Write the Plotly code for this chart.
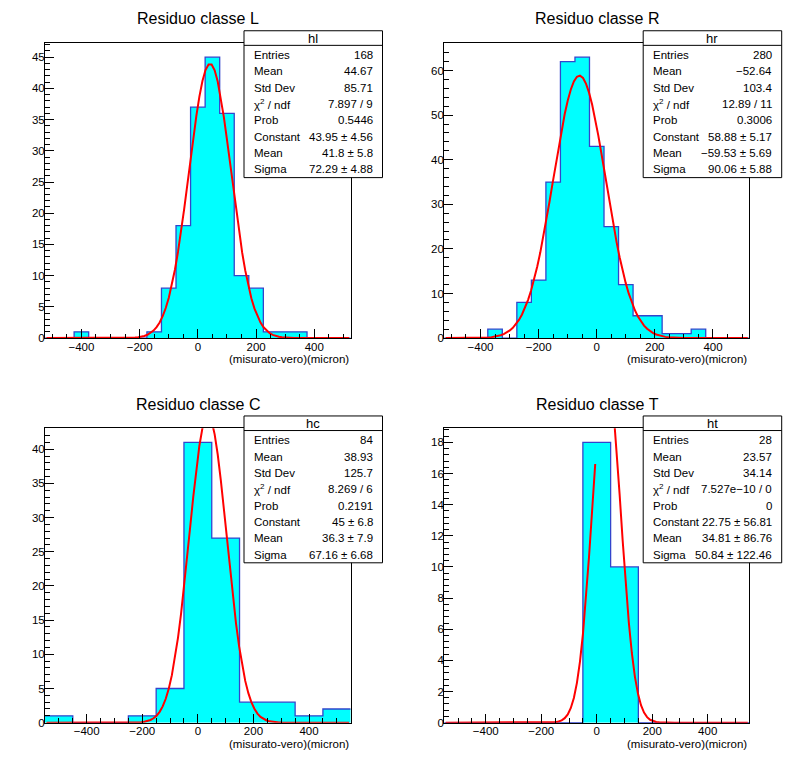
import numpy as np
import plotly.graph_objects as go

W, H = 798, 775

titles = ["Residuo classe L", "Residuo classe R", "Residuo classe C", "Residuo classe T"]
hist_names = ["hl", "hr", "hc", "ht"]

# contenuto dei bin (da sinistra a destra)
counts_l = [0, 0, 1, 0, 0, 0, 0, 1, 8, 18, 37, 45, 36, 10, 8, 1, 1, 1, 0, 0, 0]
counts_r = [0, 0, 0, 2, 0, 8, 13, 35, 62, 63, 43, 25, 12, 5, 5, 1, 1, 2, 0, 0, 0]
counts_c = [1, 0, 0, 1, 5, 41, 27, 3, 3, 1, 2]
counts_t = [0, 0, 0, 0, 0, 18, 10, 0, 0, 0, 0]
all_counts = [counts_l, counts_r, counts_c, counts_t]

# estremi dell'istogramma (micron)
x_limits = [(-525, 525), (-525, 525), (-550, 550), (-550, 550)]

# parametri del fit gaussiano
fit_const = [43.95, 58.88, 45.0, 22.75]
fit_mean = [41.8, -59.53, 36.3, 34.81]
fit_sigma = [72.29, 90.06, 67.16, 50.84]

stat_labels = ["Entries", "Mean", "Std Dev", "χ<sup>2</sup> / ndf", "Prob", "Constant", "Mean", "Sigma"]
stats_l = ["168", "44.67", "85.71", "7.897 / 9", "0.5446", "43.95 ± 4.56", "41.8 ± 5.8", "72.29 ± 4.88"]
stats_r = ["280", "−52.64", "103.4", "12.89 / 11", "0.3006", "58.88 ± 5.17", "−59.53 ± 5.69", "90.06 ± 5.88"]
stats_c = ["84", "38.93", "125.7", "8.269 / 6", "0.2191", "45 ± 6.8", "36.3 ± 7.9", "67.16 ± 6.68"]
stats_t = ["28", "23.57", "34.14", "7.527e−10 / 0", "0", "22.75 ± 56.81", "34.81 ± 86.76", "50.84 ± 122.46"]
all_stats = [stats_l, stats_r, stats_c, stats_t]

y_dtick = [5, 10, 5, 2]
y_minor = [1, 2, 1, 0.4]

FONT = "Liberation Sans, Arial, Helvetica, sans-serif"
LINE_BLUE = "#3344cc"

# frame dei pad in pixel: (x0, y0, x1, y1)
frames = [(45, 43.5, 350.7, 340.7), (444.2, 43.5, 749.3, 340.7),
          (45, 431.7, 350.7, 728.3), (444.2, 431.7, 749.3, 728.3)]


def px(x):
    return x / W


def py(y):
    return 1 - y / H


def fit_curve(i, ymax, npx=100):
    lo, hi = x_limits[i]
    step = (hi - lo) / npx
    xs = lo + step * (np.arange(npx) + 0.5)
    ys = fit_const[i] * np.exp(-0.5 * ((xs - fit_mean[i]) / fit_sigma[i]) ** 2)
    # come ROOT: il tratto che esce dal frame verso l'alto non viene disegnato
    out_x, out_y = [], []
    for k in range(npx):
        out_x.append(xs[k]); out_y.append(ys[k])
        if k < npx - 1 and ys[k] <= ymax and ys[k + 1] > 1.01 * ymax:
            out_x.append(None); out_y.append(None)
    return out_x, out_y


fig = go.Figure()
shapes, annotations = [], []

for i in range(4):
    counts = all_counts[i]
    lo, hi = x_limits[i]
    nb = len(counts)
    width = (hi - lo) / nb
    edges = [lo + width * k for k in range(nb + 1)]
    ymax = 1.05 * max(counts)
    ax = "" if i == 0 else str(i + 1)

    fig.add_trace(go.Scatter(
        x=edges, y=counts + [counts[-1]], mode="lines", line_shape="hv",
        line=dict(color=LINE_BLUE, width=1.3), fill="tozeroy", fillcolor="#00ffff",
        xaxis="x" + ax, yaxis="y" + ax, showlegend=False, hoverinfo="skip"))

    cx, cy = fit_curve(i, ymax)
    fig.add_trace(go.Scatter(
        x=cx, y=cy, mode="lines", line=dict(color="#ff0000", width=2),
        connectgaps=False, xaxis="x" + ax, yaxis="y" + ax, showlegend=False))

    x0, y0, x1, y1 = frames[i]
    fig.layout["xaxis" + ax] = dict(
        domain=[px(x0), px(x1)], range=[lo, hi], anchor="y" + ax,
        tick0=0, dtick=200, ticks="inside", ticklen=9, tickcolor="black",
        minor=dict(ticks="inside", ticklen=4.5, tick0=0, dtick=50, tickcolor="black"),
        showline=True, mirror=True, linecolor="black", linewidth=1,
        showgrid=False, zeroline=False, ticklabelstandoff=-2,
        tickfont=dict(family=FONT, size=11.5, color="black"))
    fig.layout["yaxis" + ax] = dict(
        domain=[py(y1), py(y0)], range=[0, ymax], anchor="x" + ax,
        tick0=0, dtick=y_dtick[i], ticks="inside", ticklen=9, tickcolor="black",
        minor=dict(ticks="inside", ticklen=4.5, tick0=0, dtick=y_minor[i], tickcolor="black"),
        showline=True, mirror=True, linecolor="black", linewidth=1,
        showgrid=False, zeroline=False, ticklabelstandoff=-3,
        tickfont=dict(family=FONT, size=11.5, color="black"))

    # titolo del pad
    annotations.append(dict(
        text=titles[i], x=px(x0 + 153.3), y=py(y0 - 24.5), xref="paper", yref="paper",
        xanchor="center", yanchor="middle", showarrow=False,
        font=dict(family=FONT, size=16, color="black")))

    # titolo asse x
    annotations.append(dict(
        text="(misurato-vero)(micron)", x=px(x1), y=py(y1 + 21.5), xref="paper", yref="paper",
        xanchor="right", yanchor="middle", showarrow=False,
        font=dict(family=FONT, size=11.5, color="black")))

    # box delle statistiche
    bx0, by0 = x0 + 199, y0 - 12.5
    bx1, by1 = bx0 + 138.5, by0 + 148
    shapes.append(dict(type="rect", xref="paper", yref="paper", layer="above",
                       x0=px(bx0), x1=px(bx1), y0=py(by1), y1=py(by0),
                       fillcolor="white", line=dict(color="black", width=1)))
    shapes.append(dict(type="line", xref="paper", yref="paper", layer="above",
                       x0=px(bx0), x1=px(bx1), y0=py(by0 + 14.7), y1=py(by0 + 14.7),
                       line=dict(color="black", width=1)))
    annotations.append(dict(
        text=hist_names[i], x=px((bx0 + bx1) / 2), y=py(by0 + 8), xref="paper", yref="paper",
        xanchor="center", yanchor="middle", showarrow=False,
        font=dict(family=FONT, size=13, color="black")))
    for k, lab in enumerate(stat_labels):
        ry = by0 + 24.5 + 16.45 * k
        annotations.append(dict(
            text=lab, x=px(bx0 + 7.5), y=py(ry), xref="paper", yref="paper",
            xanchor="left", yanchor="middle", showarrow=False,
            font=dict(family=FONT, size=11.5, color="black")))
        annotations.append(dict(
            text=all_stats[i][k], x=px(bx1 - 7.5), y=py(ry), xref="paper", yref="paper",
            xanchor="right", yanchor="middle", showarrow=False,
            font=dict(family=FONT, size=11.5, color="black")))

fig.update_layout(
    width=W, height=H, margin=dict(l=0, r=0, t=0, b=0),
    paper_bgcolor="white", plot_bgcolor="white",
    shapes=shapes, annotations=annotations, showlegend=False)

fig.write_html("out.html", config={"displayModeBar": False},
               post_script="document.body.style.margin='0px';")
